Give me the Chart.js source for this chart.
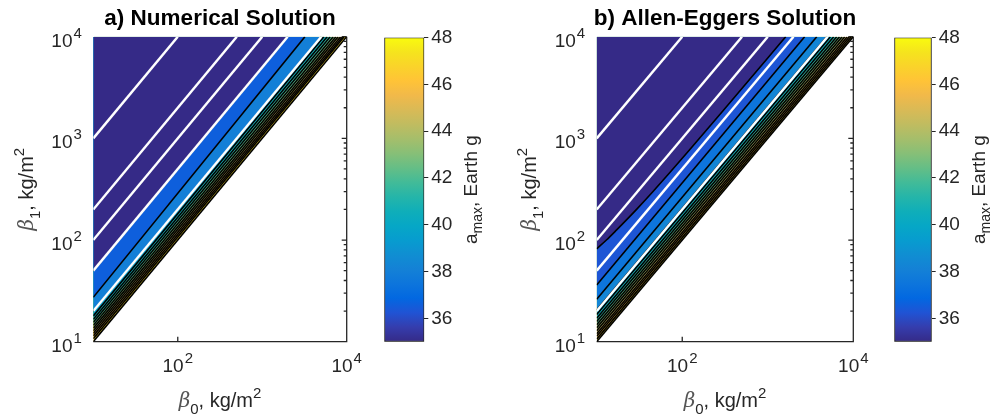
<!DOCTYPE html>
<html>
<head>
<meta charset="utf-8">
<title>Peak deceleration vs ballistic coefficients</title>
<script src="https://cdn.jsdelivr.net/npm/chart.js@4/dist/chart.umd.min.js"></script>
<style>
  html, body { margin: 0; padding: 0; background: #fff; }
  #fig { position: relative; width: 995px; height: 419px; }
  #fig canvas { position: absolute; left: 0; top: 0; }
</style>
</head>
<body>
<div id="fig">
  <canvas id="panelA" width="995" height="419"></canvas>
  <canvas id="barA" width="995" height="419"></canvas>
  <canvas id="panelB" width="995" height="419"></canvas>
  <canvas id="barB" width="995" height="419"></canvas>
</div>
<script>
// axis limits (kg/m^2) and decade ticks
const betaMin = 10;
const betaMax = 1e4;
const xTickPowers = [2, 4];
const yTickPowers = [1, 2, 3, 4];

// colour limits and colorbar ticks (Earth g)
const amaxLimits = [35, 48];
const amaxTicks = [36, 38, 40, 42, 44, 46, 48];

// white guide lines of constant beta1/beta0
const betaRatios = [100, 20, 10, 5, 2];

// a) numerical solution: contour i runs from (10, numStart[i]) to (numEnd[i], 1e4)
const numStart = [50, 27.3, 20, 17.9, 16.6, 15.5, 14.5, 13.6, 12.8, 12.1, 11.4, 10.7, 10];
const numEnd = [2000, 3200, 5000, 5370, 5875, 6380, 6920, 7450, 7930, 8470, 8940, 9340, 10000];
// a_max of the band lying just above each contour
const numLevel = [35, 36.6, 38, 39.6, 40.6, 41.4, 42.2, 43, 43.8, 44.6, 45.4, 46.2, 47];

// b) Allen-Eggers: first contour bends near the left edge
const aeCurveB0 = [10, 13, 17, 22, 30, 45, 70, 120, 300, 1000, 1623];
const aeCurveB1 = [82, 100, 125, 156, 205, 297, 451, 760, 1870, 6170, 10000];
const aeStart = [36.1, 26.1, 20.5, 18.5, 17, 15.8, 14.7, 13.7, 12.8, 12, 11.3, 10.6, 10];
const aeEnd = [2700, 3740, 4900, 5400, 5900, 6400, 6900, 7400, 7950, 8500, 9000, 9500, 10000];
const aeLevel = [35, 36.3, 37.5, 38.3, 39.6, 40.6, 41.4, 42.2, 43, 43.8, 44.6, 45.4, 46.2, 47];

const FONT = '"Liberation Sans", Arial, Helvetica, sans-serif';
const INK = '#262626';

// parula, every third entry of the 64-step map
const PARULA = [
  [0.2081, 0.1663, 0.5292], [0.2081, 0.2386, 0.6771], [0.1253, 0.3242, 0.8303],
  [0.0060, 0.4086, 0.8828], [0.0498, 0.4586, 0.8641], [0.0779, 0.5040, 0.8384],
  [0.0641, 0.5570, 0.8240], [0.0265, 0.6137, 0.8135], [0.0228, 0.6535, 0.7768],
  [0.0590, 0.6838, 0.7254], [0.1453, 0.7098, 0.6646], [0.2586, 0.7317, 0.5954],
  [0.3953, 0.7459, 0.5244], [0.5300, 0.7491, 0.4661], [0.6473, 0.7456, 0.4188],
  [0.7525, 0.7384, 0.3768], [0.8507, 0.7299, 0.3360], [0.9450, 0.7261, 0.2886],
  [0.9990, 0.7653, 0.2164], [0.9789, 0.8271, 0.1633], [0.9589, 0.8949, 0.1132],
  [0.9763, 0.9831, 0.0538]
];

function rgbOf(c) {
  return 'rgb(' + c.map(v => Math.round(v * 255)).join(',') + ')';
}

function parula(v) {
  const t = Math.min(1, Math.max(0, (v - amaxLimits[0]) / (amaxLimits[1] - amaxLimits[0])));
  const f = t * (PARULA.length - 1);
  const i = Math.min(PARULA.length - 2, Math.floor(f));
  const u = f - i;
  return rgbOf(PARULA[i].map((c, k) => c + (PARULA[i + 1][k] - c) * u));
}

// draws runs of text with their own font / colour / vertical shift, centred on cx
function drawRich(ctx, parts, cx, baseY) {
  let w = 0;
  parts.forEach(p => { ctx.font = p[1]; w += ctx.measureText(p[0]).width; });
  let x = cx - w / 2;
  ctx.textAlign = 'left';
  ctx.textBaseline = 'alphabetic';
  parts.forEach(p => {
    ctx.font = p[1];
    ctx.fillStyle = p[2];
    ctx.fillText(p[0], x, baseY + p[3]);
    x += ctx.measureText(p[0]).width;
  });
}

// "10" with a raised exponent
function drawPower(ctx, p, x, baseY, align) {
  ctx.font = '19px ' + FONT;
  const wBase = ctx.measureText('10').width;
  ctx.font = '15px ' + FONT;
  const wExp = ctx.measureText(String(p)).width;
  const w = wBase + 1 + wExp;
  const left = align === 'right' ? x - w : x - w / 2;
  ctx.textAlign = 'left';
  ctx.textBaseline = 'alphabetic';
  ctx.fillStyle = INK;
  ctx.font = '19px ' + FONT;
  ctx.fillText('10', left, baseY);
  ctx.font = '15px ' + FONT;
  ctx.fillText(String(p), left + wBase + 1, baseY - 9);
}

function betaTitle(sub) {
  return [
    ['\u03B2', 'italic 20px "DejaVu Serif"', '#555', 0],
    [sub, '15px ' + FONT, INK, 7],
    [', kg/m', '20px ' + FONT, INK, 0],
    ['2', '15px ' + FONT, INK, -9]
  ];
}

// axis lines, log ticks, tick labels and titles of one contour panel
const panelDecor = {
  id: 'panelDecor',
  beforeDatasetsDraw(chart) {
    const { ctx, chartArea: a, scales } = chart;
    ctx.save();
    ctx.strokeStyle = INK;
    ctx.lineWidth = 1.3;
    ctx.beginPath();
    // left and top edges end up under the filled contours
    ctx.moveTo(a.left, a.bottom); ctx.lineTo(a.right, a.bottom); ctx.lineTo(a.right, a.top);
    yTickPowers.forEach((p, k) => {
      const py = scales.y.getPixelForValue(10 ** p);
      ctx.moveTo(a.right, py); ctx.lineTo(a.right - 5, py);
      if (k < yTickPowers.length - 1) {
        for (let m = 2; m < 10; m++) {
          const my = scales.y.getPixelForValue(m * 10 ** p);
          ctx.moveTo(a.right, my); ctx.lineTo(a.right - 3, my);
        }
      }
    });
    xTickPowers.forEach(p => {
      const px = scales.x.getPixelForValue(10 ** p);
      ctx.moveTo(px, a.bottom); ctx.lineTo(px, a.bottom - 5);
    });
    ctx.stroke();
    ctx.restore();
  },
  afterDraw(chart, args, opts) {
    const { ctx, chartArea: a, scales } = chart;
    ctx.save();
    yTickPowers.forEach(p => {
      drawPower(ctx, p, a.left - 11.5, scales.y.getPixelForValue(10 ** p) + 10, 'right');
    });
    xTickPowers.forEach(p => {
      drawPower(ctx, p, scales.x.getPixelForValue(10 ** p), a.bottom + 30, 'center');
    });
    const cx = (a.left + a.right) / 2;
    const cy = (a.top + a.bottom) / 2;
    drawRich(ctx, betaTitle('0'), cx, a.bottom + 65);
    ctx.save();
    ctx.translate(a.left - 60.5, cy);
    ctx.rotate(-Math.PI / 2);
    drawRich(ctx, betaTitle('1'), 0, 0);
    ctx.restore();
    ctx.font = 'bold 22.5px ' + FONT;
    ctx.fillStyle = '#000';
    ctx.textAlign = 'center';
    ctx.fillText(opts.title, cx, 25);
    ctx.restore();
  }
};

// rotated a_max label next to a colorbar
const cbarLabel = {
  id: 'cbarLabel',
  afterDraw(chart) {
    const { ctx, chartArea: a } = chart;
    ctx.save();
    ctx.translate(a.right + 53, (a.top + a.bottom) / 2);
    ctx.rotate(-Math.PI / 2);
    drawRich(ctx, [
      ['a', '19px ' + FONT, INK, 0],
      ['max', '14px ' + FONT, INK, 5],
      [', Earth g', '19px ' + FONT, INK, 0]
    ], 0, 0);
    ctx.restore();
  }
};

function guideSets() {
  return betaRatios.map(r => ({
    data: [{ x: betaMin, y: betaMin * r }, { x: betaMax / r, y: betaMax }],
    borderColor: '#fff',
    borderWidth: 2.4,
    fill: false,
    pointRadius: 0,
    clip: 0
  }));
}

function contourSet(points, level) {
  return {
    data: points,
    borderColor: '#000',
    borderWidth: 1.6,
    backgroundColor: parula(level),
    fill: 'end',
    pointRadius: 0,
    clip: 0
  };
}

function straightContours(starts, ends, levels) {
  return starts.map((s, i) => contourSet([{ x: betaMin, y: s }, { x: ends[i], y: betaMax }], levels[i]));
}

function panel(id, pad, title, contours) {
  return new Chart(document.getElementById(id), {
    type: 'line',
    data: { datasets: guideSets().concat(contours) },
    options: {
      responsive: false,
      animation: false,
      events: [],
      layout: { padding: pad },
      plugins: { legend: { display: false }, tooltip: { enabled: false }, panelDecor: { title } },
      scales: {
        x: { type: 'logarithmic', min: betaMin, max: betaMax, display: false },
        y: { type: 'logarithmic', min: betaMin, max: betaMax, display: false }
      }
    },
    plugins: [panelDecor]
  });
}

function colorbar(id, left, right) {
  const axisWidth = 40;
  return new Chart(document.getElementById(id), {
    type: 'bar',
    data: {
      labels: [''],
      datasets: [{
        data: [amaxLimits],
        backgroundColor(c) {
          const a = c.chart.chartArea;
          if (!a) return PARULA[0];
          const g = c.chart.ctx.createLinearGradient(0, a.bottom, 0, a.top);
          PARULA.forEach((col, i) => g.addColorStop(i / (PARULA.length - 1), rgbOf(col)));
          return g;
        },
        borderColor: INK,
        borderWidth: 1.2,
        borderSkipped: false,
        barPercentage: 1,
        categoryPercentage: 1
      }]
    },
    options: {
      responsive: false,
      animation: false,
      events: [],
      layout: { padding: { left, top: 37.5, bottom: 77.3, right: 995 - right - axisWidth } },
      plugins: { legend: { display: false }, tooltip: { enabled: false } },
      scales: {
        x: { display: false },
        y: {
          position: 'right',
          min: amaxLimits[0],
          max: amaxLimits[1],
          afterFit(s) { s.width = axisWidth; },
          afterBuildTicks(s) { s.ticks = amaxTicks.map(v => ({ value: v })); },
          grid: { drawOnChartArea: false, drawTicks: true, tickLength: 4, color: INK, lineWidth: 1 },
          border: { display: false },
          ticks: { padding: 3, color: INK, font: { family: FONT, size: 19 } }
        }
      }
    },
    plugins: [cbarLabel]
  });
}

const curve = aeCurveB0.map((x, i) => ({ x, y: aeCurveB1[i] }));
const curveSet = contourSet(curve, aeLevel[0]);
curveSet.cubicInterpolationMode = 'monotone';

panel('panelA', { left: 93.3, top: 36.7, right: 995 - 346.7, bottom: 419 - 341.7 },
  'a) Numerical Solution', straightContours(numStart, numEnd, numLevel));
panel('panelB', { left: 596.7, top: 36.7, right: 995 - 853.3, bottom: 419 - 341.7 },
  'b) Allen-Eggers Solution', [curveSet].concat(straightContours(aeStart, aeEnd, aeLevel.slice(1))));
colorbar('barA', 384.3, 424.3);
colorbar('barB', 894.3, 931.7);
</script>
</body>
</html>
